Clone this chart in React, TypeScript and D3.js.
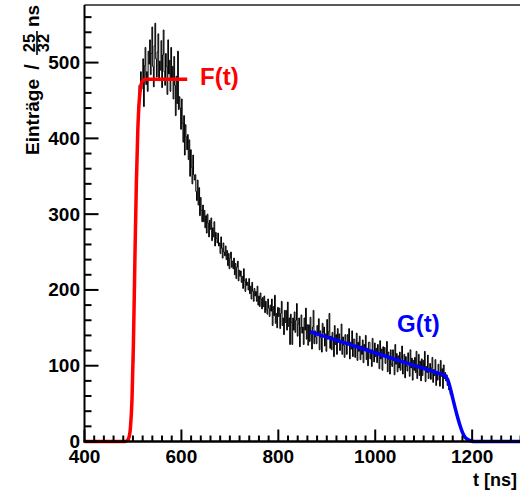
import React from "react";
import * as d3 from "d3";

// ---- data ----
const X_DOMAIN = [400, 1300];
const Y_DOMAIN = [0, 576];
const X_MAJOR = [400, 600, 800, 1000, 1200];
const Y_MAJOR = [0, 100, 200, 300, 400, 500];

const BIN_START = 487.5;
const BIN_WIDTH = 1.5625;
const counts = [
  0, 1, 3, 6, 12, 22, 40, 65, 105, 160,
  215, 300, 330, 395, 430, 445, 470, 452, 488, 465,
  478, 505, 442, 496, 520, 471, 488, 462, 515, 498,
  530, 484, 512, 547, 495, 468, 522, 552, 505, 481,
  514, 538, 476, 502, 490, 529, 467, 510, 543, 488,
  470, 512, 495, 458, 530, 485, 503, 462, 520, 478,
  495, 452, 508, 470, 430, 482, 446, 515, 438, 455,
  440, 412, 452, 420, 395, 430, 378, 418, 402, 385,
  405, 372, 398, 350, 385, 362, 340, 378, 352, 345,
  352, 330, 318, 345, 312, 335, 298, 322, 305, 290,
  312, 290, 305, 282, 298, 275, 300, 288, 270, 292,
  280, 295, 265, 282, 270, 290, 258, 276, 268, 262,
  275, 258, 262, 248, 270, 255, 242, 262, 250, 245,
  258, 240, 252, 232, 248, 228, 242, 250, 230, 238,
  228, 242, 220, 235, 215, 230, 238, 212, 226, 218,
  225, 210, 218, 202, 228, 212, 198, 215, 206, 210,
  200, 215, 195, 205, 188, 210, 198, 185, 202, 192,
  198, 185, 205, 180, 192, 178, 196, 188, 175, 190,
  178, 192, 170, 185, 174, 168, 188, 176, 165, 180,
  172, 188, 153, 178, 166, 193, 156, 169, 150, 177,
  165, 176, 149, 169, 185, 153, 163, 141, 173, 157,
  173, 147, 184, 152, 163, 128, 168, 157, 128, 163,
  147, 171, 144, 160, 182, 139, 155, 163, 125, 150,
  167, 143, 151, 128, 163, 147, 176, 135, 154, 127,
  154, 132, 164, 141, 122, 151, 173, 129, 146, 138,
  129, 153, 140, 162, 121, 146, 137, 118, 156, 143,
  151, 126, 142, 119, 161, 135, 145, 169, 123, 139,
  121, 144, 136, 112, 153, 128, 141, 115, 149, 131,
  142, 120, 133, 155, 115, 138, 127, 111, 141, 130,
  115, 141, 128, 149, 109, 131, 122, 146, 112, 135,
  135, 111, 127, 143, 107, 131, 119, 139, 108, 126,
  115, 134, 104, 128, 120, 140, 108, 123, 100, 131,
  131, 109, 121, 99, 136, 118, 105, 130, 112, 123,
  104, 128, 117, 96, 133, 109, 122, 94, 125, 115,
  124, 103, 113, 132, 92, 118, 108, 89, 121, 102,
  99, 121, 107, 88, 128, 102, 116, 92, 113, 97,
  118, 94, 110, 126, 89, 105, 115, 84, 112, 99,
  93, 117, 101, 86, 121, 97, 110, 81, 107, 94,
  111, 91, 119, 83, 101, 115, 87, 106, 80, 109,
  87, 107, 95, 119, 79, 99, 91, 114, 83, 96,
  103, 82, 97, 111, 78, 95, 87, 108, 74, 92,
  81, 102, 91, 73, 107, 86, 96, 70, 101, 83,
  91, 80, 88, 74, 83, 68, 75, 62, 66, 57,
  55, 50, 46, 42, 38, 34, 30, 27, 24, 21,
  18, 15, 12, 10, 8, 6, 4, 3, 2, 1,
];

// fit F(t)
const fT = [400, 484, 488, 492, 495, 498, 501, 504, 507, 510, 513, 516, 520, 526, 612];
const fV = [0, 0, 1, 6, 20, 55, 130, 240, 340, 410, 450, 468, 476, 478, 478];
// fit G(t)
const gT = [865, 950, 1050, 1130, 1140, 1146, 1151, 1155, 1160, 1165, 1170, 1175, 1180, 1185, 1190, 1197, 1205, 1300];
const gV = [145, 127.4, 106.6, 90.1, 88, 85.5, 79, 70, 57, 44, 32, 21, 12, 6, 3, 1, 0, 0];

const FONT = "'Liberation Sans', Arial, Helvetica, sans-serif";

export default function App() {
  const W = 520, H = 494;
  const x = d3.scaleLinear().domain(X_DOMAIN).range([84.5, 520.6]);
  const y = d3.scaleLinear().domain(Y_DOMAIN).range([441.5, 5]);

  const xMinor = d3.range(400, 1300.1, 20);
  const yMinor = d3.range(0, 576, 20);

  const histPts: [number, number][] = [[X_DOMAIN[0], 0]];
  counts.forEach((v, i) => histPts.push([BIN_START + i * BIN_WIDTH, v]));
  histPts.push([BIN_START + counts.length * BIN_WIDTH, 0]);
  histPts.push([X_DOMAIN[1], 0]);
  const histLine = d3
    .line<[number, number]>()
    .x((d) => x(d[0]))
    .y((d) => y(d[1]))
    .curve(d3.curveStepAfter);

  const fitLine = d3
    .line<[number, number]>()
    .x((d) => x(d[0]))
    .y((d) => y(d[1]))
    .curve(d3.curveMonotoneX);
  const fPts = fT.map((t, i) => [t, fV[i]] as [number, number]);
  const gPts = gT.map((t, i) => [t, gV[i]] as [number, number]);

  const x0 = x.range()[0];
  const yb = y.range()[0];

  return (
    <svg
      width={W}
      height={H}
      style={{ position: "absolute", left: 0, top: 0, background: "#fff" }}
      fontFamily={FONT}
      fontWeight="bold"
    >
      <rect x={0} y={0} width={W} height={H} fill="#fff" />
      {/* frame top */}
      <line x1={x0} x2={x(1300)} y1={5} y2={5} stroke="#222" strokeWidth={1.5} />

      {/* histogram */}
      <path d={histLine(histPts) || ""} fill="none" stroke="#000" strokeWidth={1} />

      {/* fits */}
      <path d={fitLine(fPts) || ""} fill="none" stroke="#ff0000" strokeWidth={3.5} />
      <path d={fitLine(gPts) || ""} fill="none" stroke="#0000ff" strokeWidth={3.5} />

      {/* axes */}
      <line x1={x0} x2={x0} y1={5} y2={yb + 1} stroke="#000" strokeWidth={2} />
      <line x1={x0 - 1} x2={x(1300)} y1={yb} y2={yb} stroke="#000" strokeWidth={2.5} />
      {yMinor.map((v) => (
        <line key={"ym" + v} x1={x0} x2={x0 + (v % 100 === 0 ? 14 : 7)} y1={y(v)} y2={y(v)} stroke="#000" strokeWidth={2} />
      ))}
      {xMinor.map((v) => (
        <line key={"xm" + v} x1={x(v)} x2={x(v)} y1={yb} y2={yb - (v % 200 === 0 ? 12 : 6)} stroke="#000" strokeWidth={2} />
      ))}
      {Y_MAJOR.map((v) => (
        <text key={"yl" + v} x={80} y={y(v) + 6.5} textAnchor="end" fontSize={19}>
          {v}
        </text>
      ))}
      {X_MAJOR.map((v) => (
        <text key={"xl" + v} x={x(v)} y={463} textAnchor="middle" fontSize={19}>
          {v}
        </text>
      ))}
      <text x={517} y={486} textAnchor="end" fontSize={18}>
        t [ns]
      </text>

      {/* y title */}
      <g transform="translate(39,0) rotate(-90)">
        <text x={-155} y={0} fontSize={19}>Einträge</text>
        <text x={-67} y={0} fontSize={20} textAnchor="middle">/</text>
        <text x={-43} y={-4} fontSize={16.5} textAnchor="middle">25</text>
        <line x1={-55} x2={-31} y1={-2} y2={-2} stroke="#000" strokeWidth={1.6} />
        <text x={-43} y={10} fontSize={16.5} textAnchor="middle">32</text>
        <text x={-27} y={0} fontSize={19}>ns</text>
      </g>

      {/* labels */}
      <text x={200} y={85} fontSize={24} fill="#ff0000">F(t)</text>
      <text x={397} y={332} fontSize={24} fill="#0000ff">G(t)</text>
    </svg>
  );
}
